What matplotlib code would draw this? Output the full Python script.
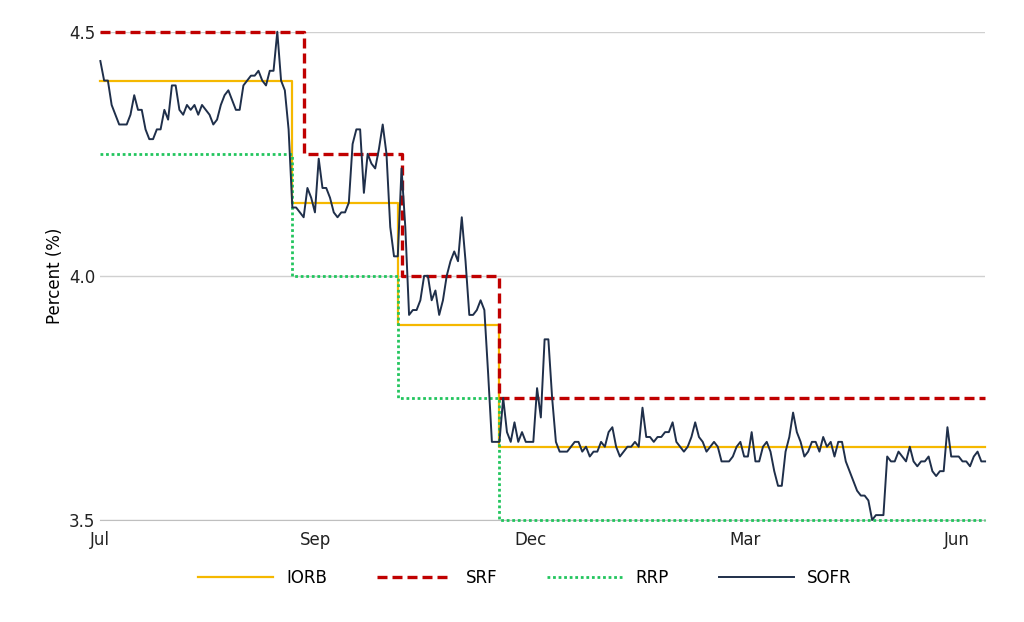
import matplotlib.pyplot as plt
import numpy as np

# step policy rates: level per regime, and index where each regime starts
iorb_levels = [4.40, 4.15, 3.90, 3.65]
iorb_breaks = [0, 51, 79, 106]
srf_levels = [4.50, 4.25, 4.00, 3.75]
srf_breaks = [0, 54, 80, 106]
rrp_levels = [4.25, 4.00, 3.75, 3.50]
rrp_breaks = [0, 51, 79, 106]

sofr = [
    4.44, 4.40, 4.40, 4.35, 4.33, 4.31, 4.31, 4.31, 4.33, 4.37, 4.34, 4.34, 4.30, 4.28, 4.28,
    4.30, 4.30, 4.34, 4.32, 4.39, 4.39, 4.34, 4.33, 4.35, 4.34, 4.35, 4.33, 4.35, 4.34,
    4.33, 4.31, 4.32, 4.35, 4.37, 4.38, 4.36, 4.34, 4.34, 4.39, 4.40, 4.41, 4.41, 4.42, 4.40,
    4.39, 4.42, 4.42, 4.50, 4.40, 4.38, 4.30,
    4.14, 4.14, 4.13, 4.12, 4.18, 4.16, 4.13, 4.24, 4.18, 4.18, 4.16, 4.13, 4.12, 4.13, 4.13,
    4.15, 4.27, 4.30, 4.30, 4.17, 4.25, 4.23, 4.22, 4.26, 4.31, 4.25, 4.10, 4.04,
    4.04, 4.22, 4.10, 3.92, 3.93, 3.93, 3.95, 4.00, 4.00, 3.95, 3.97, 3.92, 3.95, 4.00,
    4.03, 4.05, 4.03, 4.12, 4.03, 3.92, 3.92, 3.93, 3.95, 3.93, 3.80, 3.66, 3.66,
    3.66, 3.75, 3.68, 3.66, 3.70, 3.66, 3.68, 3.66, 3.66, 3.66, 3.77, 3.71, 3.87, 3.87, 3.75, 3.66,
    3.64, 3.64, 3.64, 3.65, 3.66, 3.66, 3.64, 3.65, 3.63, 3.64, 3.64, 3.66, 3.65, 3.68, 3.69, 3.65,
    3.63, 3.64, 3.65, 3.65, 3.66, 3.65, 3.73, 3.67, 3.67, 3.66, 3.67, 3.67, 3.68, 3.68, 3.70, 3.66,
    3.65, 3.64, 3.65, 3.67, 3.70, 3.67, 3.66, 3.64, 3.65, 3.66, 3.65, 3.62, 3.62, 3.62, 3.63, 3.65,
    3.66, 3.63, 3.63, 3.68, 3.62, 3.62, 3.65, 3.66, 3.64, 3.60, 3.57, 3.57, 3.64, 3.67, 3.72, 3.68,
    3.66, 3.63, 3.64, 3.66, 3.66, 3.64, 3.67, 3.65, 3.66, 3.63, 3.66, 3.66, 3.62, 3.60, 3.58, 3.56,
    3.55, 3.55, 3.54, 3.50, 3.51, 3.51, 3.51, 3.63, 3.62, 3.62, 3.64, 3.63, 3.62, 3.65, 3.62, 3.61,
    3.62, 3.62, 3.63, 3.60, 3.59, 3.60, 3.60, 3.69, 3.63, 3.63, 3.63, 3.62, 3.62, 3.61, 3.63, 3.64,
    3.62, 3.62,
]
tick_labels = ["Jul", "Sep", "Dec", "Mar", "Jun"]
tick_frac = [0.0, 0.243, 0.486, 0.729, 0.968]


def step_series(levels, breaks, n):
    y = np.empty(n)
    for lvl, start in zip(levels, breaks):
        y[start:] = lvl
    return y


n = len(sofr)
x = np.arange(n)
end = n - 1

fig = plt.figure(figsize=(10.24, 6.22), dpi=100)
ax = fig.add_axes([0.098, 0.164, 0.864, 0.785])

ax.step(x, step_series(iorb_levels, iorb_breaks, n), where="post", color="#F5B800", lw=1.6, label="IORB", clip_on=False, zorder=3)
ax.step(x, step_series(srf_levels, srf_breaks, n), where="post", color="#C00000", lw=2.4, ls=(0, (3, 1.5)), label="SRF", clip_on=False, zorder=3)
ax.step(x, step_series(rrp_levels, rrp_breaks, n), where="post", color="#22C55E", lw=2.0, ls=(0, (1, 1)), label="RRP", clip_on=False, zorder=3)
ax.plot(x, sofr, color="#1F2F4A", lw=1.4, label="SOFR", clip_on=False, zorder=4)

ax.set_xlim(0, end)
ax.set_ylim(3.5, 4.5)
ax.set_yticks([3.5, 4.0, 4.5])
ax.set_yticklabels(["3.5", "4.0", "4.5"])
ax.set_xticks([f * end for f in tick_frac])
ax.set_xticklabels(tick_labels)
ax.tick_params(labelsize=12, length=0, colors="#222222")
ax.tick_params(axis="x", pad=8)
ax.grid(axis="y", color="#D0D0D0", lw=1)
ax.set_axisbelow(True)
for s in ["top", "right", "left"]:
    ax.spines[s].set_visible(False)
ax.spines["bottom"].set_color("#BFBFBF")
ax.spines["bottom"].set_zorder(1)
ax.set_ylabel("Percent (%)", fontsize=12)

ax.legend(loc="upper center", bbox_to_anchor=(0.48, -0.07), ncol=4, frameon=False,
          fontsize=12, handlelength=4.5, columnspacing=3)

fig.savefig("out.png", dpi=100)
